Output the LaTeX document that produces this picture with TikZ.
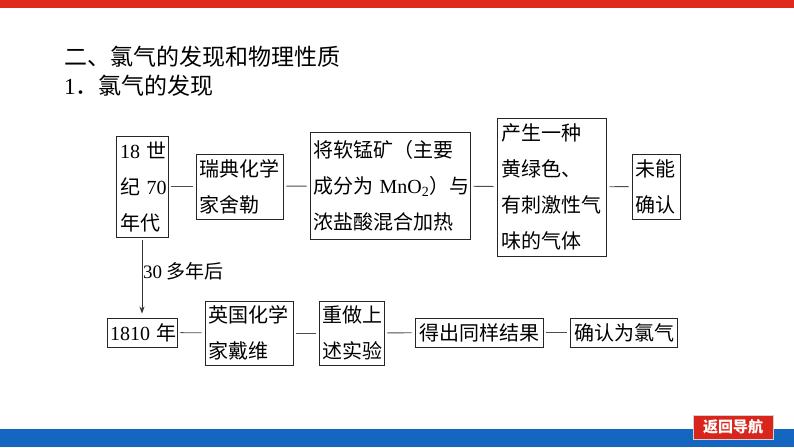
\documentclass[tikz,border=0pt]{standalone}
\usepackage{fontspec}
\setmainfont{Noto Sans CJK SC}
\newfontfamily\lat{Liberation Serif}
\usetikzlibrary{arrows.meta}
\definecolor{topred}{HTML}{E0281E}
\definecolor{botblue}{HTML}{1566C0}
\definecolor{btnred}{HTML}{D9261C}
\begin{document}
\begin{tikzpicture}[x=1pt,y=-1pt,
  box/.style={draw=black!85, line width=0.9pt, inner sep=0pt, font=\fontsize{20}{36}\selectfont, align=left},
  link/.style={draw=black!70, line width=0.9pt, shorten <=3pt, shorten >=3pt},
  heading/.style={anchor=west, inner sep=0pt, font=\fontsize{23}{23}\selectfont}]
\fill[white] (0,0) rectangle (794,447);
\useasboundingbox (0,0) rectangle (794,447);
\fill[topred] (0,0) rectangle (794,8);
\fill[botblue] (0,429) rectangle (794,447);
\node[fill=btnred, draw=gray!35, line width=1pt, minimum width=80, minimum height=24, inner sep=0pt, text=white, font=\fontsize{15}{15}\selectfont\bfseries] (nav) at (733,427) {返回导航};

\node[heading] (t1) at (64,57) {二、氯气的发现和物理性质};
\node[heading] (t2) at (64,86) {{\lat 1}．氯气的发现};

% row 1
\node[box, minimum width=52, minimum height=101, text width=44] (b1) at (142,186.5) {{\lat 18}~世\\纪~{\lat 70}\\年代};
\node[box, minimum width=87, minimum height=65, text width=80] (b2) at (239.5,186.5) {瑞典化学\\家舍勒};
\node[box, minimum width=160, minimum height=107, text width=154] (b3) at (390,185.5) {将软锰矿（主要\\成分为~{\lat MnO\textsubscript{2}}）与\\浓盐酸混合加热};
\node[box, minimum width=109, minimum height=138, text width=101] (b4) at (551.5,187) {产生一种\\黄绿色、\\有刺激性气\\味的气体};
\node[box, minimum width=48, minimum height=65, text width=41] (b5) at (656,186.5) {未能\\确认};
\draw[link] (b1) -- (b2);
\draw[link] (b2) -- (b3);
\draw[link] (b3) -- (b4);
\draw[link] (b4) -- (b5);

% row 2
\node[box, minimum width=70, minimum height=29, text width=64] (c1) at (142,332.5) {{\lat 1810}~年};
\node[box, minimum width=88, minimum height=64, text width=81] (c2) at (249,333) {英国化学\\家戴维};
\node[box, minimum width=65, minimum height=64, text width=59] (c3) at (351.5,333) {重做上\\述实验};
\node[box, minimum width=128, minimum height=29, text width=120] (c4) at (479,332.5) {得出同样结果};
\node[box, minimum width=107, minimum height=29, text width=99] (c5) at (623.5,332.5) {确认为氯气};
\draw[link] (c1) -- (c2);
\draw[link] (c2) -- (c3);
\draw[link] (c3) -- (c4);
\draw[link] (c4) -- (c5);

% arrow
\draw[draw=black!80, line width=0.8pt, -{Stealth[length=7pt,width=5pt]}, shorten <=3pt, shorten >=4pt] (b1.south) -- (c1.north);
\node[anchor=west, inner sep=0pt, font=\fontsize{19}{19}\selectfont] (lbl) at (143,271) {{\lat 30}~多年后};
\end{tikzpicture}
\end{document}
